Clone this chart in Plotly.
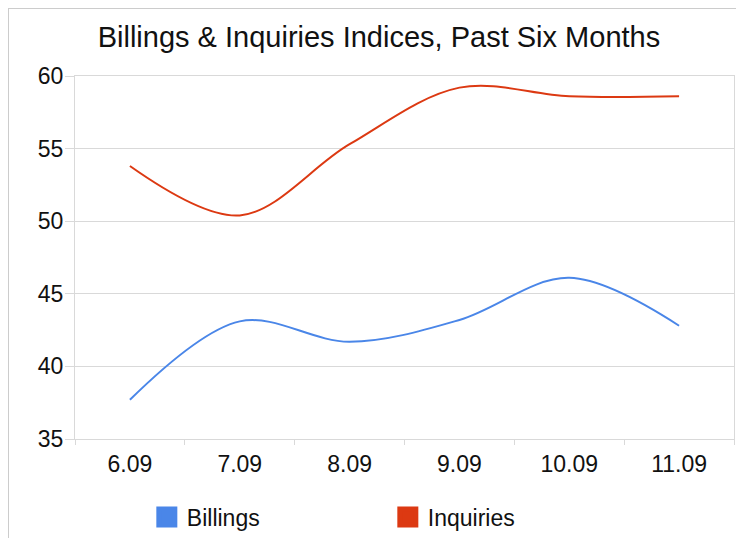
import plotly.graph_objects as go

# Index values
months = ['6.09', '7.09', '8.09', '9.09', '10.09', '11.09']
billings = [37.7, 43.1, 41.7, 43.2, 46.1, 42.8]
inquiries = [53.8, 50.4, 55.3, 59.2, 58.6, 58.6]

BLUE = '#4a86e8'
RED = '#dc3912'
GRID = '#d9d9d9'
FONT = 'Liberation Sans, Arial, sans-serif'

# page body adds an 8px margin, so the figure is 8px smaller on each side
W, H = 736, 530

fig = go.Figure()

for name, vals, color in [('Billings', billings, BLUE), ('Inquiries', inquiries, RED)]:
    fig.add_trace(go.Scatter(
        x=months, y=vals, mode='lines', name=name, legendgroup=name,
        showlegend=False, line=dict(color=color, width=2, shape='spline', smoothing=1),
        hoverinfo='x+y+name'
    ))
    # square legend swatch
    fig.add_trace(go.Scatter(
        x=[None], y=[None], mode='markers', name=name, legendgroup=name,
        marker=dict(symbol='square', size=16, color=color, line=dict(color=color, width=5))
    ))

fig.update_layout(
    width=W, height=H,
    margin=dict(l=67, r=10, t=68, b=99, autoexpand=False),
    paper_bgcolor='white', plot_bgcolor='white',
    font=dict(family=FONT, color='#222222', size=23),
    title=dict(text='Billings & Inquiries Indices, Past Six Months',
               x=0.504, xanchor='center', y=1 - 29 / H, yanchor='middle',
               font=dict(size=29, color='#111111')),
    showlegend=True,
    legend=dict(orientation='h', x=0.109, xanchor='left', y=-0.215, yanchor='middle',
                entrywidth=196, entrywidthmode='pixels',
                font=dict(size=23, color='#111111'), itemsizing='trace'),
    shapes=[
        # light frame along the top and left edges
        dict(type='line', xref='paper', yref='paper',
             x0=-67.5 / 659, x1=1.02, y0=1 + 67.5 / 363, y1=1 + 67.5 / 363,
             line=dict(color='#cccccc', width=1)),
        dict(type='line', xref='paper', yref='paper',
             x0=-66.5 / 659, x1=-66.5 / 659, y0=1 + 67.5 / 363, y1=-0.28,
             line=dict(color='#cccccc', width=1)),
    ],
)

fig.update_xaxes(
    type='category', range=[-0.5, 5.5],
    showgrid=False, showline=True, linecolor=GRID, linewidth=1, mirror=True,
    ticks='outside', tickson='boundaries', ticklen=5, tickcolor=GRID,
    ticklabelstandoff=4,
    tickfont=dict(size=23, color='#111111'), fixedrange=True,
)
fig.update_yaxes(
    range=[35, 60], dtick=5, showgrid=True, gridcolor=GRID, gridwidth=1,
    showline=True, linecolor=GRID, linewidth=1, mirror=True, zeroline=False,
    ticks='outside', ticklen=9, tickcolor=GRID, ticklabelstandoff=-3,
    tickfont=dict(size=23, color='#111111'), fixedrange=True,
)

fig.write_html('out.html')
